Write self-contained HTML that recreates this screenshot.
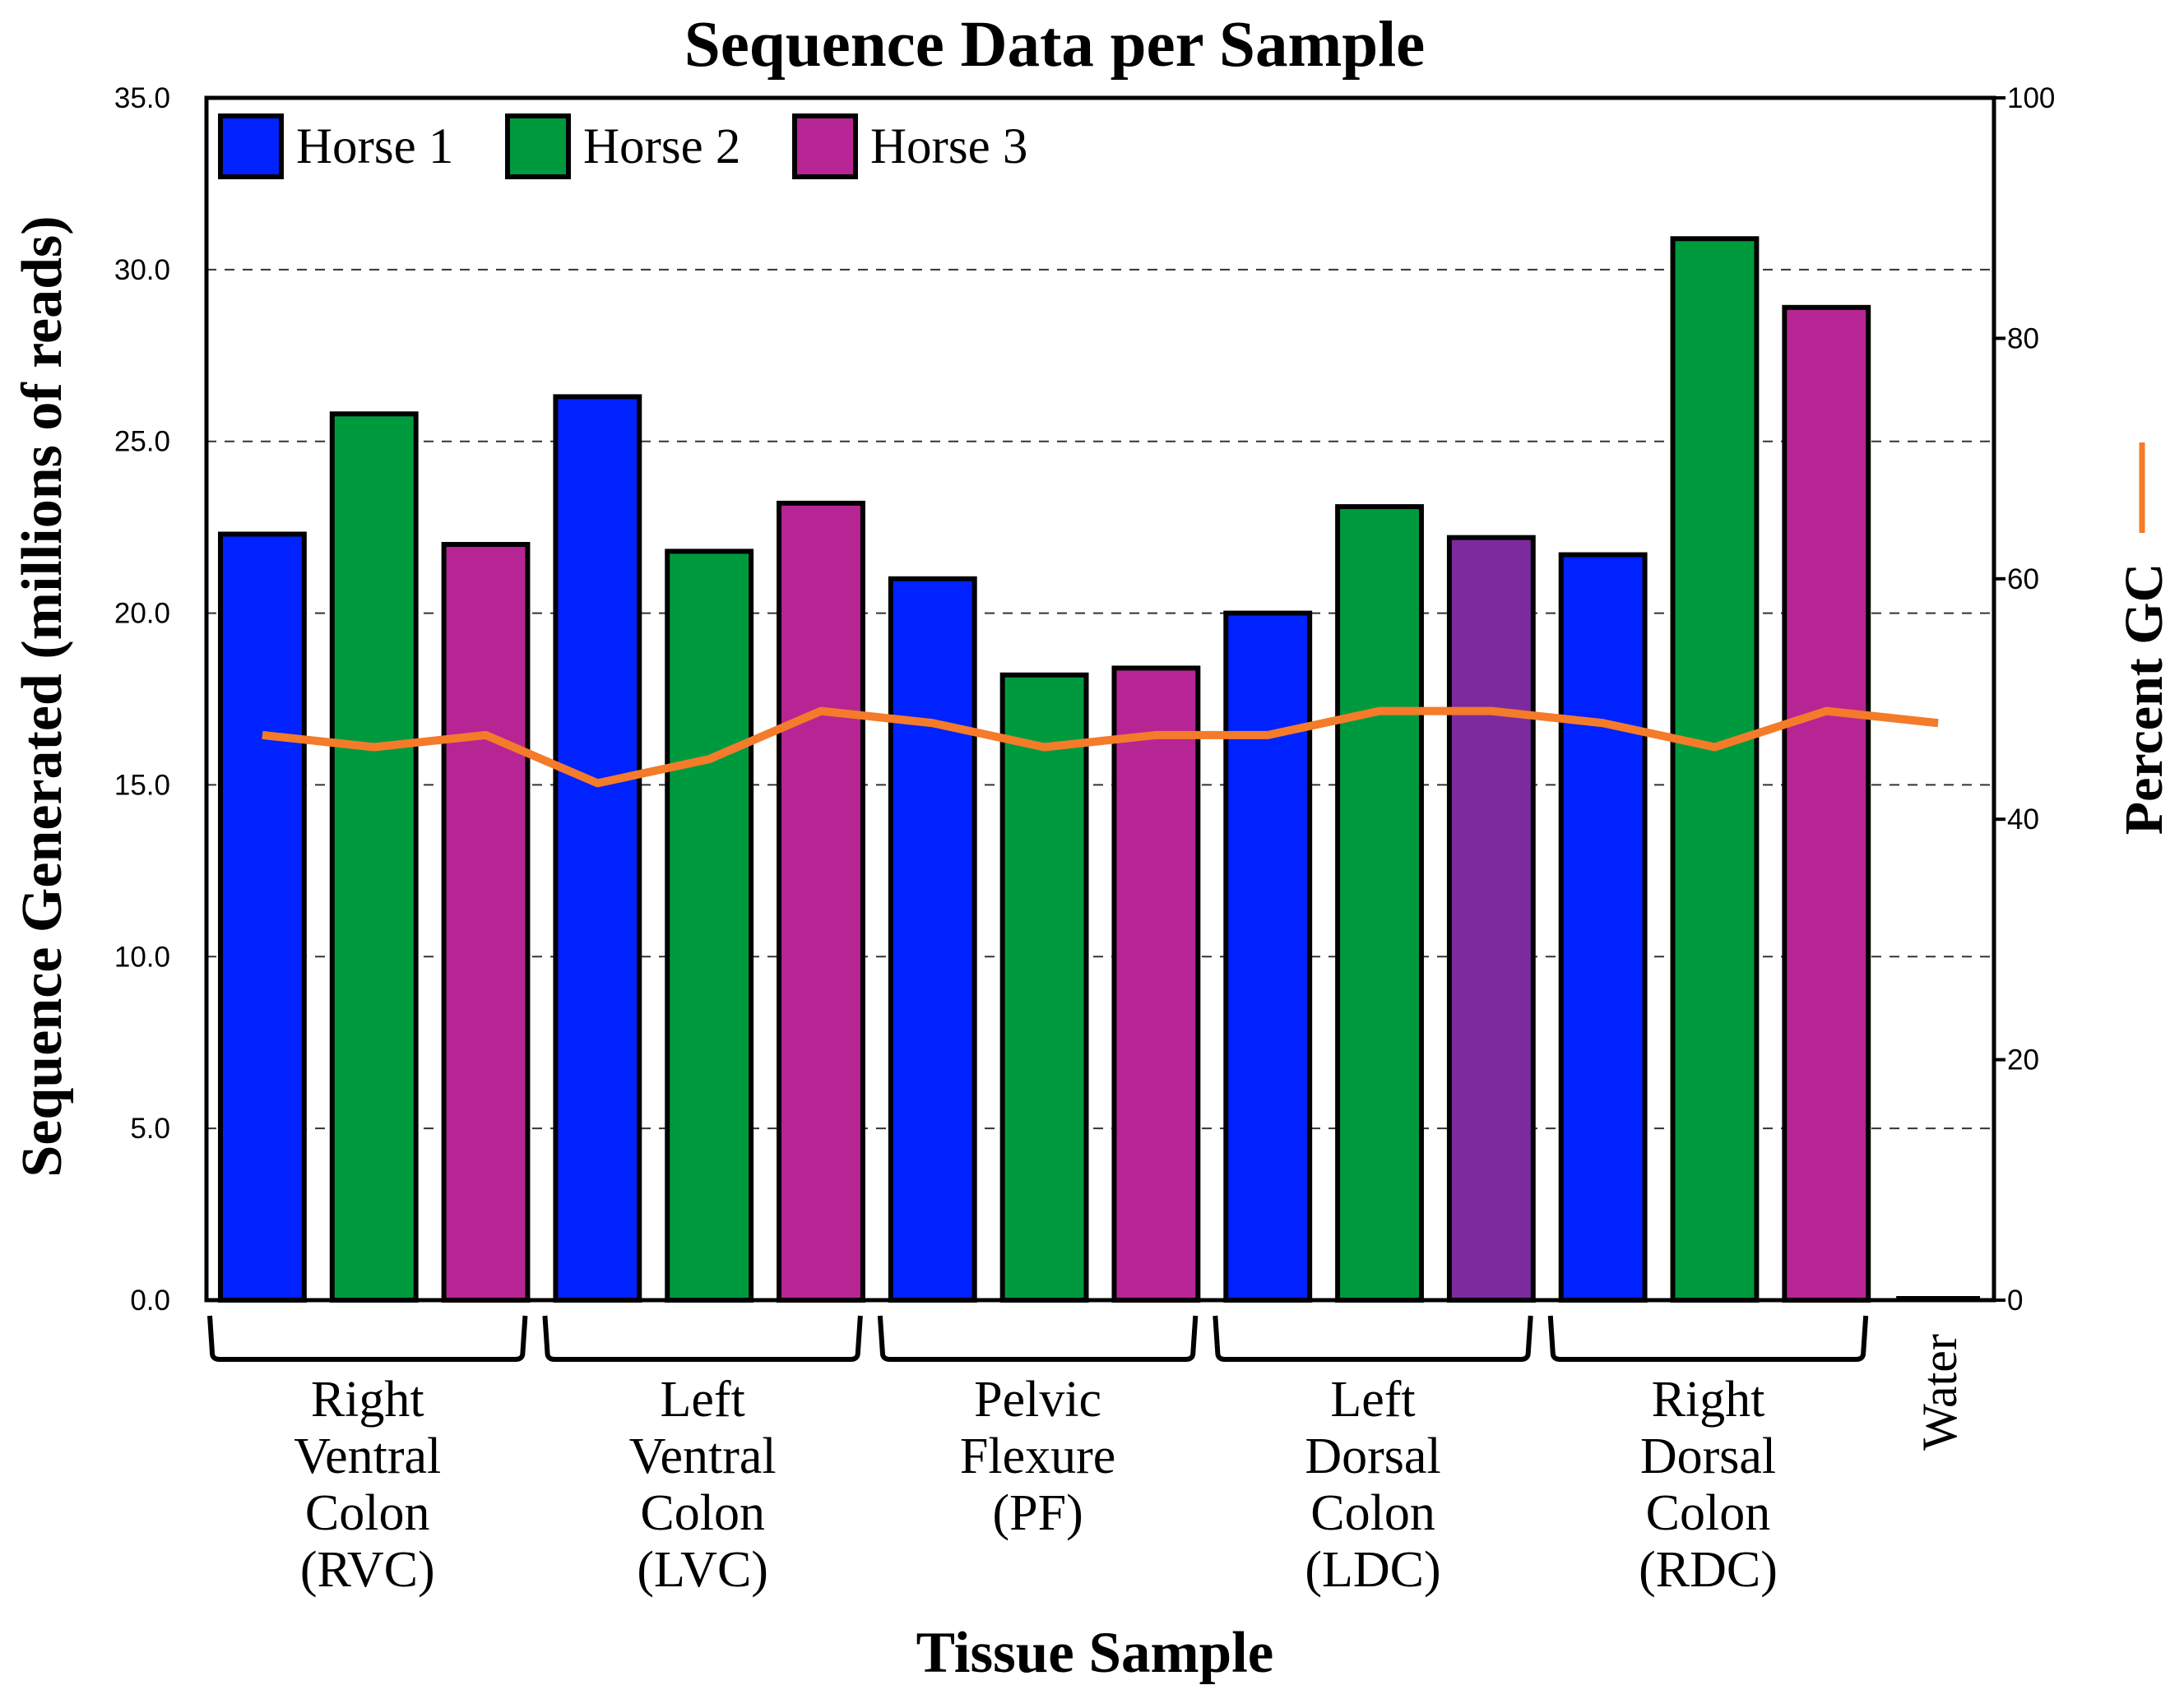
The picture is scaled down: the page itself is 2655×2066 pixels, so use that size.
<!DOCTYPE html>
<html><head><meta charset="utf-8">
<style>
html,body{margin:0;padding:0;background:#fff;}
svg{display:block;}
</style></head>
<body>
<svg id="chart" width="2655" height="2066" viewBox="0 0 2655 2066" xmlns="http://www.w3.org/2000/svg">
<text x="1282" y="80" text-anchor="middle" font-family="Liberation Serif, serif" font-weight="bold" font-size="79">Sequence Data per Sample</text>
<text transform="translate(74,847) rotate(-90)" text-anchor="middle" font-family="Liberation Serif, serif" font-weight="bold" font-size="70">Sequence Generated (millions of reads)</text>
<text transform="translate(2628,850) rotate(-90)" text-anchor="middle" font-family="Liberation Serif, serif" font-weight="bold" font-size="66">Percent GC</text>
<line x1="2604" y1="538" x2="2604" y2="648" stroke="#f47b2a" stroke-width="7"/>
<text x="1331" y="2033" text-anchor="middle" font-family="Liberation Serif, serif" font-weight="bold" font-size="71">Tissue Sample</text>
<g id="grid"></g><g id="bars"></g><g id="line"></g><g id="axes"></g><g id="legend"></g><g id="groups"></g>
</svg>
<script>
const categories = ["RVC","LVC","PF","LDC","RDC"];
const horse1 = [22.3, 26.3, 21.0, 20.0, 21.7];
const horse2 = [25.8, 21.8, 18.2, 23.1, 30.9];
const horse3 = [22.0, 23.2, 18.4, 22.2, 28.9];
const water = [0.05];
const gcPercent = [47, 46, 47, 43, 45, 49, 48, 46, 47, 47, 49, 49, 48, 46, 49, 48];
const yTicks = ["0.0","5.0","10.0","15.0","20.0","25.0","30.0","35.0"];
const y2Ticks = [0,20,40,60,80,100];
const groupLabels = [["Right","Ventral","Colon","(RVC)"],["Left","Ventral","Colon","(LVC)"],["Pelvic","Flexure","(PF)"],["Left","Dorsal","Colon","(LDC)"],["Right","Dorsal","Colon","(RDC)"]];

const NS="http://www.w3.org/2000/svg";
const L=251,R=2424,T=119,B=1581;
const slot=(R-L)/16;
const y=v=>B-(v/35)*(B-T);
const y2=v=>B-(v/100)*(B-T);
const xc=i=>L+slot*(i+0.5);
function mk(parent,tag,attrs){const e=document.createElementNS(NS,tag);for(const k in attrs)e.setAttribute(k,attrs[k]);document.getElementById(parent).appendChild(e);return e;}

for(let i=1;i<7;i++){const v=parseFloat(yTicks[i]);
 const g=mk('grid','line',{x1:L,x2:R,y1:y(v),y2:y(v),stroke:'#333','stroke-width':2,'stroke-dasharray':'12 10'});
 
 }
const series=[horse1,horse2,horse3];
const colors=['#0022ff','#009a3e','#b72594'];
categories.forEach((c,gi)=>{series.forEach((s,si)=>{
 const i=gi*3+si; const bw=slot*0.75;
 let col=colors[si]; if(c==='LDC'&&si===2) col='#7d2a9f';
 const r=mk('bars','rect',{x:xc(i)-bw/2,y:y(s[gi]),width:bw,height:B-y(s[gi]),fill:col,stroke:'#000','stroke-width':6});
 
 
});});
{const bw=slot*0.75;const h=Math.max(5,B-y(water[0]));const r=mk('bars','rect',{x:xc(15)-bw/2,y:B-h,width:bw,height:h,fill:'#000'});
 
 }
const pts=gcPercent.map((v,i)=>xc(i)+','+y2(v)).join(' ');
const pl=mk('line','polyline',{points:pts,fill:'none',stroke:'#f47b2a','stroke-width':10,'stroke-linejoin':'round'});


const fr=mk('axes','rect',{x:L,y:T,width:R-L,height:B-T,fill:'none',stroke:'#000','stroke-width':5});


yTicks.forEach(t=>{const e=mk('axes','text',{x:207,y:y(parseFloat(t))+12,'text-anchor':'end','font-family':'Liberation Sans, sans-serif','font-size':35});e.textContent=t;
 
 });
y2Ticks.forEach(t=>{const tk=mk('axes','line',{x1:R,x2:R+14,y1:y2(t),y2:y2(t),stroke:'#000','stroke-width':4});
 
 
 const e=mk('axes','text',{x:2440,y:y2(t)+12,'font-family':'Liberation Sans, sans-serif','font-size':35});e.textContent=t;
 
 });
const names=['Horse 1','Horse 2','Horse 3'];const lx=[268,617,966];
names.forEach((n,i)=>{const r=mk('legend','rect',{x:lx[i],y:141,width:74,height:74,fill:colors[i],stroke:'#000','stroke-width':6});
 
 
 const t=mk('legend','text',{x:lx[i]+92,y:198,'font-family':'Liberation Serif, serif','font-size':61});t.textContent=n;
 
 });
groupLabels.forEach((lines,gi)=>{const x0=L+slot*gi*3+4,x1=L+slot*(gi*3+3)-20;
 const p=mk('groups','path',{d:`M${x0},1600 L${x0+3},1645 Q${x0+3},1653 ${x0+12},1653 L${x1-12},1653 Q${x1-3},1653 ${x1-3},1645 L${x1},1600`,fill:'none',stroke:'#000','stroke-width':6});
 
 
 const cx=(x0+x1)/2;
 lines.forEach((ln,k)=>{const t=mk('groups','text',{x:cx,y:1722+k*69,'text-anchor':'middle','font-family':'Liberation Serif, serif','font-size':62});t.textContent=ln;
  
  });
});
{const t=mk('groups','text',{transform:`translate(${xc(15)+22},1693) rotate(-90)`,'text-anchor':'middle','font-family':'Liberation Serif, serif','font-size':60});t.textContent='Water';
 
 }
</script>
</body></html>
